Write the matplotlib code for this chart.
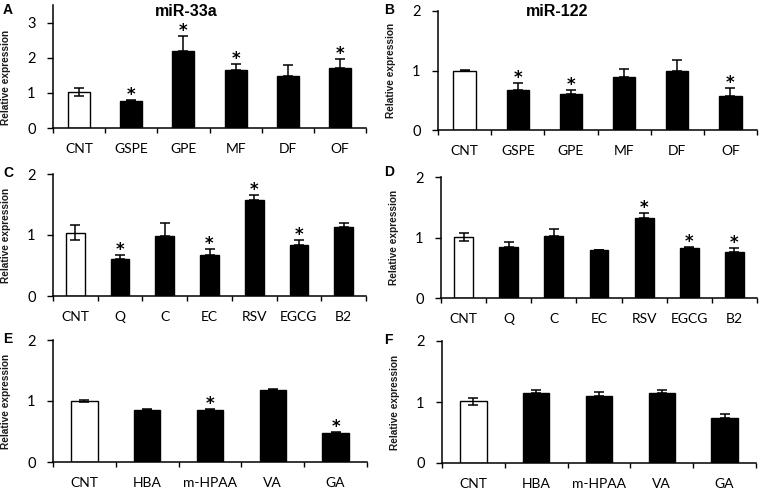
import numpy as np
from matplotlib import pyplot as plt

plt.rcParams['font.family'] = ['Lato', 'DejaVu Sans']

# panel data: labels, means, errors, significance flags
labels_ab = ['CNT', 'GSPE', 'GPE', 'MF', 'DF', 'OF']
labels_cd = ['CNT', 'Q', 'C', 'EC', 'RSV', 'EGCG', 'B2']
labels_ef = ['CNT', 'HBA', 'm-HPAA', 'VA', 'GA']

a_vals = [1.02, 0.77, 2.18, 1.65, 1.49, 1.70]
a_errs = [0.12, 0.02, 0.45, 0.16, 0.31, 0.27]
a_star = [0, 1, 1, 1, 0, 1]

b_vals = [1.00, 0.68, 0.60, 0.89, 0.99, 0.57]
b_errs = [0.01, 0.11, 0.08, 0.13, 0.18, 0.13]
b_star = [0, 1, 1, 0, 0, 1]

c_vals = [1.04, 0.61, 0.99, 0.68, 1.57, 0.84, 1.13]
c_errs = [0.12, 0.06, 0.20, 0.09, 0.08, 0.07, 0.06]
c_star = [0, 1, 0, 1, 1, 1, 0]

d_vals = [1.01, 0.85, 1.02, 0.79, 1.33, 0.83, 0.76]
d_errs = [0.07, 0.08, 0.12, 0.01, 0.07, 0.02, 0.06]
d_star = [0, 0, 0, 0, 1, 1, 1]

e_vals = [1.00, 0.86, 0.86, 1.18, 0.48]
e_errs = [0.01, 0.005, 0.01, 0.01, 0.01]
e_star = [0, 0, 1, 0, 1]

f_vals = [1.01, 1.15, 1.10, 1.15, 0.74]
f_errs = [0.06, 0.05, 0.06, 0.05, 0.06]
f_star = [0, 0, 0, 0, 0]

titles = {'A': ('miR-33a', 186, 12), 'B': ('miR-122', 557, 12)}

panels = [
    ('A', labels_ab, a_vals, a_errs, a_star, 3.5, [0, 1, 2, 3],
     [53, 366, 128, 5], (3, 10)),
    ('B', labels_ab, b_vals, b_errs, b_star, 2, [0, 1, 2],
     [438, 757, 130, 11], (384, 10)),
    ('C', labels_cd, c_vals, c_errs, c_star, 2, [0, 1, 2],
     [53, 366, 296, 174], (3, 173)),
    ('D', labels_cd, d_vals, d_errs, d_star, 2, [0, 1, 2],
     [441, 757, 298, 177], (384, 172)),
    ('E', labels_ef, e_vals, e_errs, e_star, 2, [0, 1, 2],
     [53, 367, 462, 340], (3, 339)),
    ('F', labels_ef, f_vals, f_errs, f_star, 2, [0, 1, 2],
     [442, 756, 463, 341], (384, 340)),
]

W, H = 760, 493
fig = plt.figure(figsize=(W / 100, H / 100), dpi=100)

for letter, labels, vals, errs, stars, ymax, yticks, box, lpos in panels:
    x0, x1, yb, yt = box
    ax = fig.add_axes([x0 / W, 1 - yb / H, (x1 - x0) / W, (yb - yt) / H])
    n = len(labels)
    x = np.arange(n)
    colors = ['white'] + ['black'] * (n - 1)
    ax.bar(x, vals, width=0.42, color=colors, edgecolor='black', linewidth=1.0, zorder=2)
    # CNT gets two-sided error bar, treatments only upper
    lower = [errs[0]] + [0] * (n - 1)
    ax.errorbar(x, vals, yerr=[lower, errs], fmt='none', ecolor='black',
                elinewidth=1.1, capsize=3.5, capthick=1.1, zorder=3)
    for i in range(n):
        if stars[i]:
            ax.annotate('*', (x[i], vals[i] + errs[i]), xytext=(0, 0),
                        textcoords='offset points', ha='center', va='baseline',
                        fontsize=12, fontweight='bold', family='DejaVu Sans')
    ax.set_xlim(-0.5, n - 0.5)
    ax.set_ylim(0, ymax)
    ax.set_yticks(yticks)
    ax.set_xticks(x)
    ax.set_xticklabels(labels, fontsize=10)
    ax.set_xticks(np.arange(n + 1) - 0.5, minor=True)
    ax.tick_params(axis='x', which='major', length=0, pad=11)
    ax.tick_params(axis='x', which='minor', length=3.5, width=1.0, direction='out')
    ax.tick_params(axis='y', length=4.5, width=1.0, labelsize=10.5, pad=8)
    for s in ['top', 'right']:
        ax.spines[s].set_visible(False)
    for s in ['left', 'bottom']:
        ax.spines[s].set_linewidth(1.1)
    ax.set_ylabel('Relative expression', fontsize=7.3, fontweight='bold',
                  family='Liberation Sans', color='#1a1a1a')
    ly = 0.41 if ymax > 2 else 0.5
    ax.yaxis.set_label_coords(-42 / (x1 - x0), ly)
    if letter in titles:
        t, tx, ty = titles[letter]
        fig.text(tx / W, 1 - ty / H, t, fontsize=11.5, fontweight='bold',
                 family='Liberation Sans', ha='center', va='center')
    fig.text(lpos[0] / W, 1 - lpos[1] / H, letter, fontsize=10, fontweight='bold',
             family='Liberation Sans', va='center', ha='left')

plt.savefig('out.png', dpi=100)
